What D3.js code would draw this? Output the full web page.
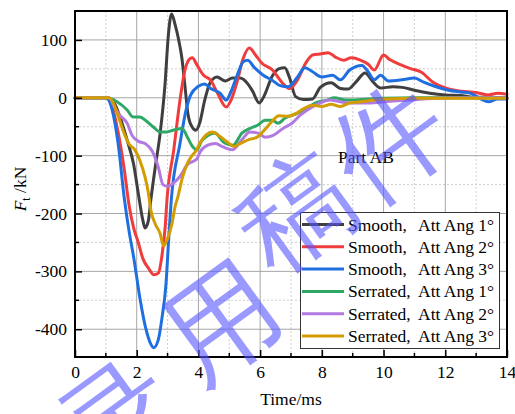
<!DOCTYPE html>
<html>
<head>
<meta charset="utf-8">
<script src="https://cdn.jsdelivr.net/npm/d3@7"></script>
<style>
  html, body { margin: 0; padding: 0; background: #fff; }
  svg { display: block; }
  text { font-family: "Liberation Serif", "Times New Roman", serif; }
</style>
</head>
<body>
<svg id="chart" width="515" height="414"></svg>
<script>
// Force on part AB versus time, six cases
const seriesNames = [
  "Smooth,  Att Ang 1°", "Smooth,  Att Ang 2°", "Smooth,  Att Ang 3°",
  "Serrated, Att Ang 1°", "Serrated, Att Ang 2°", "Serrated, Att Ang 3°"
];
const seriesColors = ["#3f3f3f", "#f03c3c", "#1f6fe0", "#2fa866", "#b27ae0", "#d39c00"];

const smooth1T = [0,1.0,1.1,1.3,1.5,1.7,1.9,2.05,2.2,2.27,2.38,2.45,2.6,2.76,2.92,3.02,3.13,3.25,3.34,3.46,3.57,3.66,3.79,3.92,4.05,4.2,4.38,4.6,4.87,5.1,5.35,5.6,5.75,5.97,6.1,6.4,6.6,6.8,6.95,7.15,7.4,7.7,7.95,8.3,8.6,8.85,9.1,9.4,9.65,9.9,10.3,10.6,11.0,11.5,12.0,12.5,12.9,13.4,14];
const smooth1F = [0,0,-1,-12,-40,-75,-115,-165,-212,-225,-212,-180,-120,-61,25,105,145,125,105,70,17,-28,-50,-56,-42,-5,26,36,29,34,34,24,12,-9,0,38,50,52,35,2,-3,-2,18,26,16,15,27,43,28,17,19,18,13,8,5,4,1,1,0];

const smooth2T = [0,1.0,1.05,1.2,1.4,1.6,1.75,1.9,2.05,2.2,2.4,2.55,2.7,2.82,2.92,2.98,3.2,3.4,3.55,3.7,3.8,3.95,4.15,4.4,4.6,4.9,5.05,5.25,5.45,5.65,5.85,6.05,6.4,6.7,6.95,7.2,7.5,7.7,8.0,8.2,8.45,8.7,8.95,9.25,9.5,9.7,10.0,10.2,10.6,10.9,11.2,11.6,12.0,12.4,12.8,13.1,13.4,13.7,14];
const smooth2F = [0,0,-1,-15,-60,-125,-185,-225,-250,-278,-296,-306,-303,-272,-225,-177,-90,-5,45,66,69,57,40,30,10,-16,-5,27,68,86,74,60,48,27,16,30,62,74,76,78,70,65,69,65,58,48,74,66,56,50,45,27,17,12,10,8,5,8,6];

const smooth3T = [0,1.0,1.05,1.2,1.4,1.6,1.75,1.9,2.1,2.3,2.45,2.55,2.7,2.82,2.95,3.03,3.12,3.4,3.6,3.75,4.0,4.2,4.4,4.7,4.9,5.05,5.25,5.45,5.6,5.8,6.1,6.4,6.65,6.9,7.2,7.45,7.7,8.0,8.35,8.6,8.9,9.3,9.5,9.7,9.9,10.15,10.6,11.0,11.3,11.7,12.1,12.5,12.8,13.15,13.4,13.7,14];
const smooth3F = [0,0,-1,-20,-80,-175,-230,-275,-345,-400,-425,-432,-418,-380,-321,-250,-177,-80,-21,5,20,24,16,8,-4,10,38,62,65,53,39,30,21,19,35,52,45,36,39,31,48,56,45,31,39,29,31,34,27,19,13,10,8,-2,-7,-2,-2];

const serrated1T = [0,1.05,1.36,1.69,1.88,2.1,2.33,2.53,2.76,2.98,3.18,3.47,3.66,3.82,3.95,4.1,4.28,4.54,4.8,5.12,5.41,5.67,5.93,6.16,6.39,6.58,6.81,7.2,7.52,7.78,8.17,8.4,8.8,9.3,10,11,14];
const serrated1F = [0,0,-7,-21,-33,-33,-41,-50,-59,-59,-56,-53,-70,-85,-90,-75,-66,-61,-76,-82,-61,-53,-47,-39,-39,-44,-35,-27,-18,-9,-4,0,-4,-3,-1,0,0];

const serrated2T = [0,1.1,1.3,1.45,1.7,1.85,2.05,2.3,2.5,2.7,2.85,3.0,3.2,3.4,3.65,3.95,4.05,4.3,4.55,4.8,5.1,5.4,5.67,5.93,6.16,6.42,6.74,7.03,7.3,7.62,7.94,8.27,8.6,9.0,9.5,10.2,10.8,11.6,12.5,14];
const serrated2F = [0,0,-18,-30,-45,-65,-75,-80,-92,-120,-150,-153,-147,-136,-115,-106,-94,-82,-79,-85,-90,-73,-59,-61,-68,-65,-53,-44,-30,-18,-9,-4,-7,-9,-9,-6,-4,-1,0,0];

const serrated3T = [0,1.1,1.25,1.39,1.62,1.75,1.94,2.1,2.27,2.37,2.46,2.6,2.76,2.87,2.98,3.14,3.24,3.34,3.47,3.63,3.79,3.92,4.05,4.25,4.45,4.7,4.9,5.15,5.4,5.65,5.9,6.15,6.4,6.6,6.9,7.2,7.4,7.7,8.0,8.3,8.6,8.9,9.25,9.7,10.1,11,12,14];
const serrated3F = [0,0,-10,-30,-65,-80,-90,-108,-137,-162,-195,-218,-235,-256,-246,-218,-189,-170,-140,-115,-100,-92,-78,-64,-59,-67,-75,-84,-78,-72,-68,-55,-40,-31,-32,-26,-19,-13,-15,-11,-15,-9,-7,-4,-2,-1,-1,-1];

const seriesT = [smooth1T, smooth2T, smooth3T, serrated1T, serrated2T, serrated3T];
const seriesF = [smooth1F, smooth2F, smooth3F, serrated1F, serrated2F, serrated3F];

const xTicks = [0, 2, 4, 6, 8, 10, 12, 14];
const xMinor = [1, 3, 5, 7, 9, 11, 13];
const yTicks = [100, 0, -100, -200, -300, -400];
const yMinor = [50, -50, -150, -250, -350];

const xLabel = "Time/ms";
const annotation = "Part AB";
const stampChars = ["录", "用", "稿", "件"];

const svg = d3.select("#chart");
const plotL = 75, plotR = 507, plotT = 11, plotB = 357;

const x = d3.scaleLinear().domain([0, 14]).range([plotL, plotR]);
const y = d3.scaleLinear().domain([-448, 150]).range([plotB, plotT]);

// grid
const grid = svg.append("g");
grid.selectAll(".gxm").data(xMinor).join("line")
  .attr("x1", d => x(d)).attr("x2", d => x(d)).attr("y1", plotT).attr("y2", plotB)
  .attr("stroke", "#cfcfcf").attr("stroke-width", 1).attr("stroke-dasharray", "2,2");
grid.selectAll(".gym").data(yMinor).join("line")
  .attr("y1", d => y(d)).attr("y2", d => y(d)).attr("x1", plotL).attr("x2", plotR)
  .attr("stroke", "#cfcfcf").attr("stroke-width", 1).attr("stroke-dasharray", "2,2");
grid.selectAll(".gx").data(xTicks).join("line")
  .attr("x1", d => x(d)).attr("x2", d => x(d)).attr("y1", plotT).attr("y2", plotB)
  .attr("stroke", "#a6a6a6").attr("stroke-width", 1);
grid.selectAll(".gy").data(yTicks).join("line")
  .attr("y1", d => y(d)).attr("y2", d => y(d)).attr("x1", plotL).attr("x2", plotR)
  .attr("stroke", "#a6a6a6").attr("stroke-width", 1);

// curves
const line = d3.line().x(d => x(d[0])).y(d => y(d[1])).curve(d3.curveMonotoneX);
const plot = svg.append("g");
seriesT.forEach((ts, i) => {
  const pts = ts.map((t, k) => [t, seriesF[i][k]]);
  plot.append("path").datum(pts)
    .attr("d", line).attr("fill", "none")
    .attr("stroke", seriesColors[i]).attr("stroke-width", 3)
    .attr("stroke-linejoin", "round").attr("stroke-linecap", "round");
});

// axes with inward ticks; plain hyphen for negative labels
const xAxis = d3.axisBottom(x).tickValues(xTicks).tickSizeInner(-7).tickSizeOuter(0).tickFormat(d => String(d));
const gx = svg.append("g").attr("transform", `translate(0,${plotB})`).call(xAxis);
gx.selectAll(".tick text").attr("dy", null).attr("y", 21)
  .attr("font-size", 17.5).attr("fill", "#000").attr("font-family", "Liberation Serif");
const yAxis = d3.axisLeft(y).tickValues(yTicks).tickSizeInner(-7).tickSizeOuter(0).tickFormat(d => String(d));
const gy = svg.append("g").attr("transform", `translate(${plotL},0)`).call(yAxis);
gy.selectAll(".tick text").attr("x", -8)
  .attr("font-size", 17.5).attr("fill", "#000").attr("font-family", "Liberation Serif");
[gx, gy].forEach(g => {
  g.select(".domain").remove();
  g.selectAll(".tick line").attr("stroke", "#000").attr("stroke-width", 1.5);
});
svg.append("g").selectAll("line").data(xMinor).join("line")
  .attr("x1", d => x(d)).attr("x2", d => x(d)).attr("y1", plotB).attr("y2", plotB - 4)
  .attr("stroke", "#000").attr("stroke-width", 1.5);
svg.append("g").selectAll("line").data(yMinor).join("line")
  .attr("y1", d => y(d)).attr("y2", d => y(d)).attr("x1", plotL).attr("x2", plotL + 4)
  .attr("stroke", "#000").attr("stroke-width", 1.5);

// frame
svg.append("rect").attr("x", plotL).attr("y", plotT).attr("width", plotR - plotL).attr("height", plotB - plotT)
  .attr("fill", "none").attr("stroke", "#000").attr("stroke-width", 2);

// axis titles
svg.append("text").attr("x", (plotL + plotR) / 2).attr("y", 405).attr("text-anchor", "middle")
  .attr("font-size", 17.5).text(xLabel);
const yl = svg.append("text").attr("transform", "translate(26,189) rotate(-90)")
  .attr("text-anchor", "middle").attr("font-size", 17.5);
yl.append("tspan").attr("font-style", "italic").text("F");
yl.append("tspan").attr("font-size", 12).attr("dy", 4).text("t");
yl.append("tspan").attr("dy", -4).text(" /kN");

// annotation
svg.append("text").attr("x", 338).attr("y", 163).attr("font-size", 17.5).text(annotation);

// legend
const lg = svg.append("g");
lg.append("rect").attr("x", 300.5).attr("y", 212.5).attr("width", 199).attr("height", 136)
  .attr("fill", "#fff").attr("stroke", "#333").attr("stroke-width", 1);
seriesNames.forEach((name, i) => {
  const cy = 224.5 + i * 22.3;
  lg.append("line").attr("x1", 302).attr("x2", 344).attr("y1", cy).attr("y2", cy)
    .attr("stroke", seriesColors[i]).attr("stroke-width", 3);
  const parts = name.split(/,\s+/);
  const t = lg.append("text").attr("y", cy + 6).attr("font-size", 17.5);
  t.append("tspan").attr("x", 348).text(parts[0] + ", ");
  t.append("tspan").attr("x", 418).text(parts[1]);
});

// translucent stamp across the plot
const stamp = svg.append("g").attr("fill", "rgb(85,85,255)").attr("fill-opacity", 0.6)
  .attr("font-family", "Noto Sans CJK SC").attr("font-weight", 300).attr("font-size", 112);
const stampPos = [[118, 418], [222, 322], [296, 212], [390, 142]];
stampChars.forEach((c, i) => {
  stamp.append("text").attr("text-anchor", "middle").attr("dominant-baseline", "central")
    .attr("transform", `translate(${stampPos[i][0]},${stampPos[i][1]}) rotate(-36)`)
    .text(c);
});
</script>
</body>
</html>
